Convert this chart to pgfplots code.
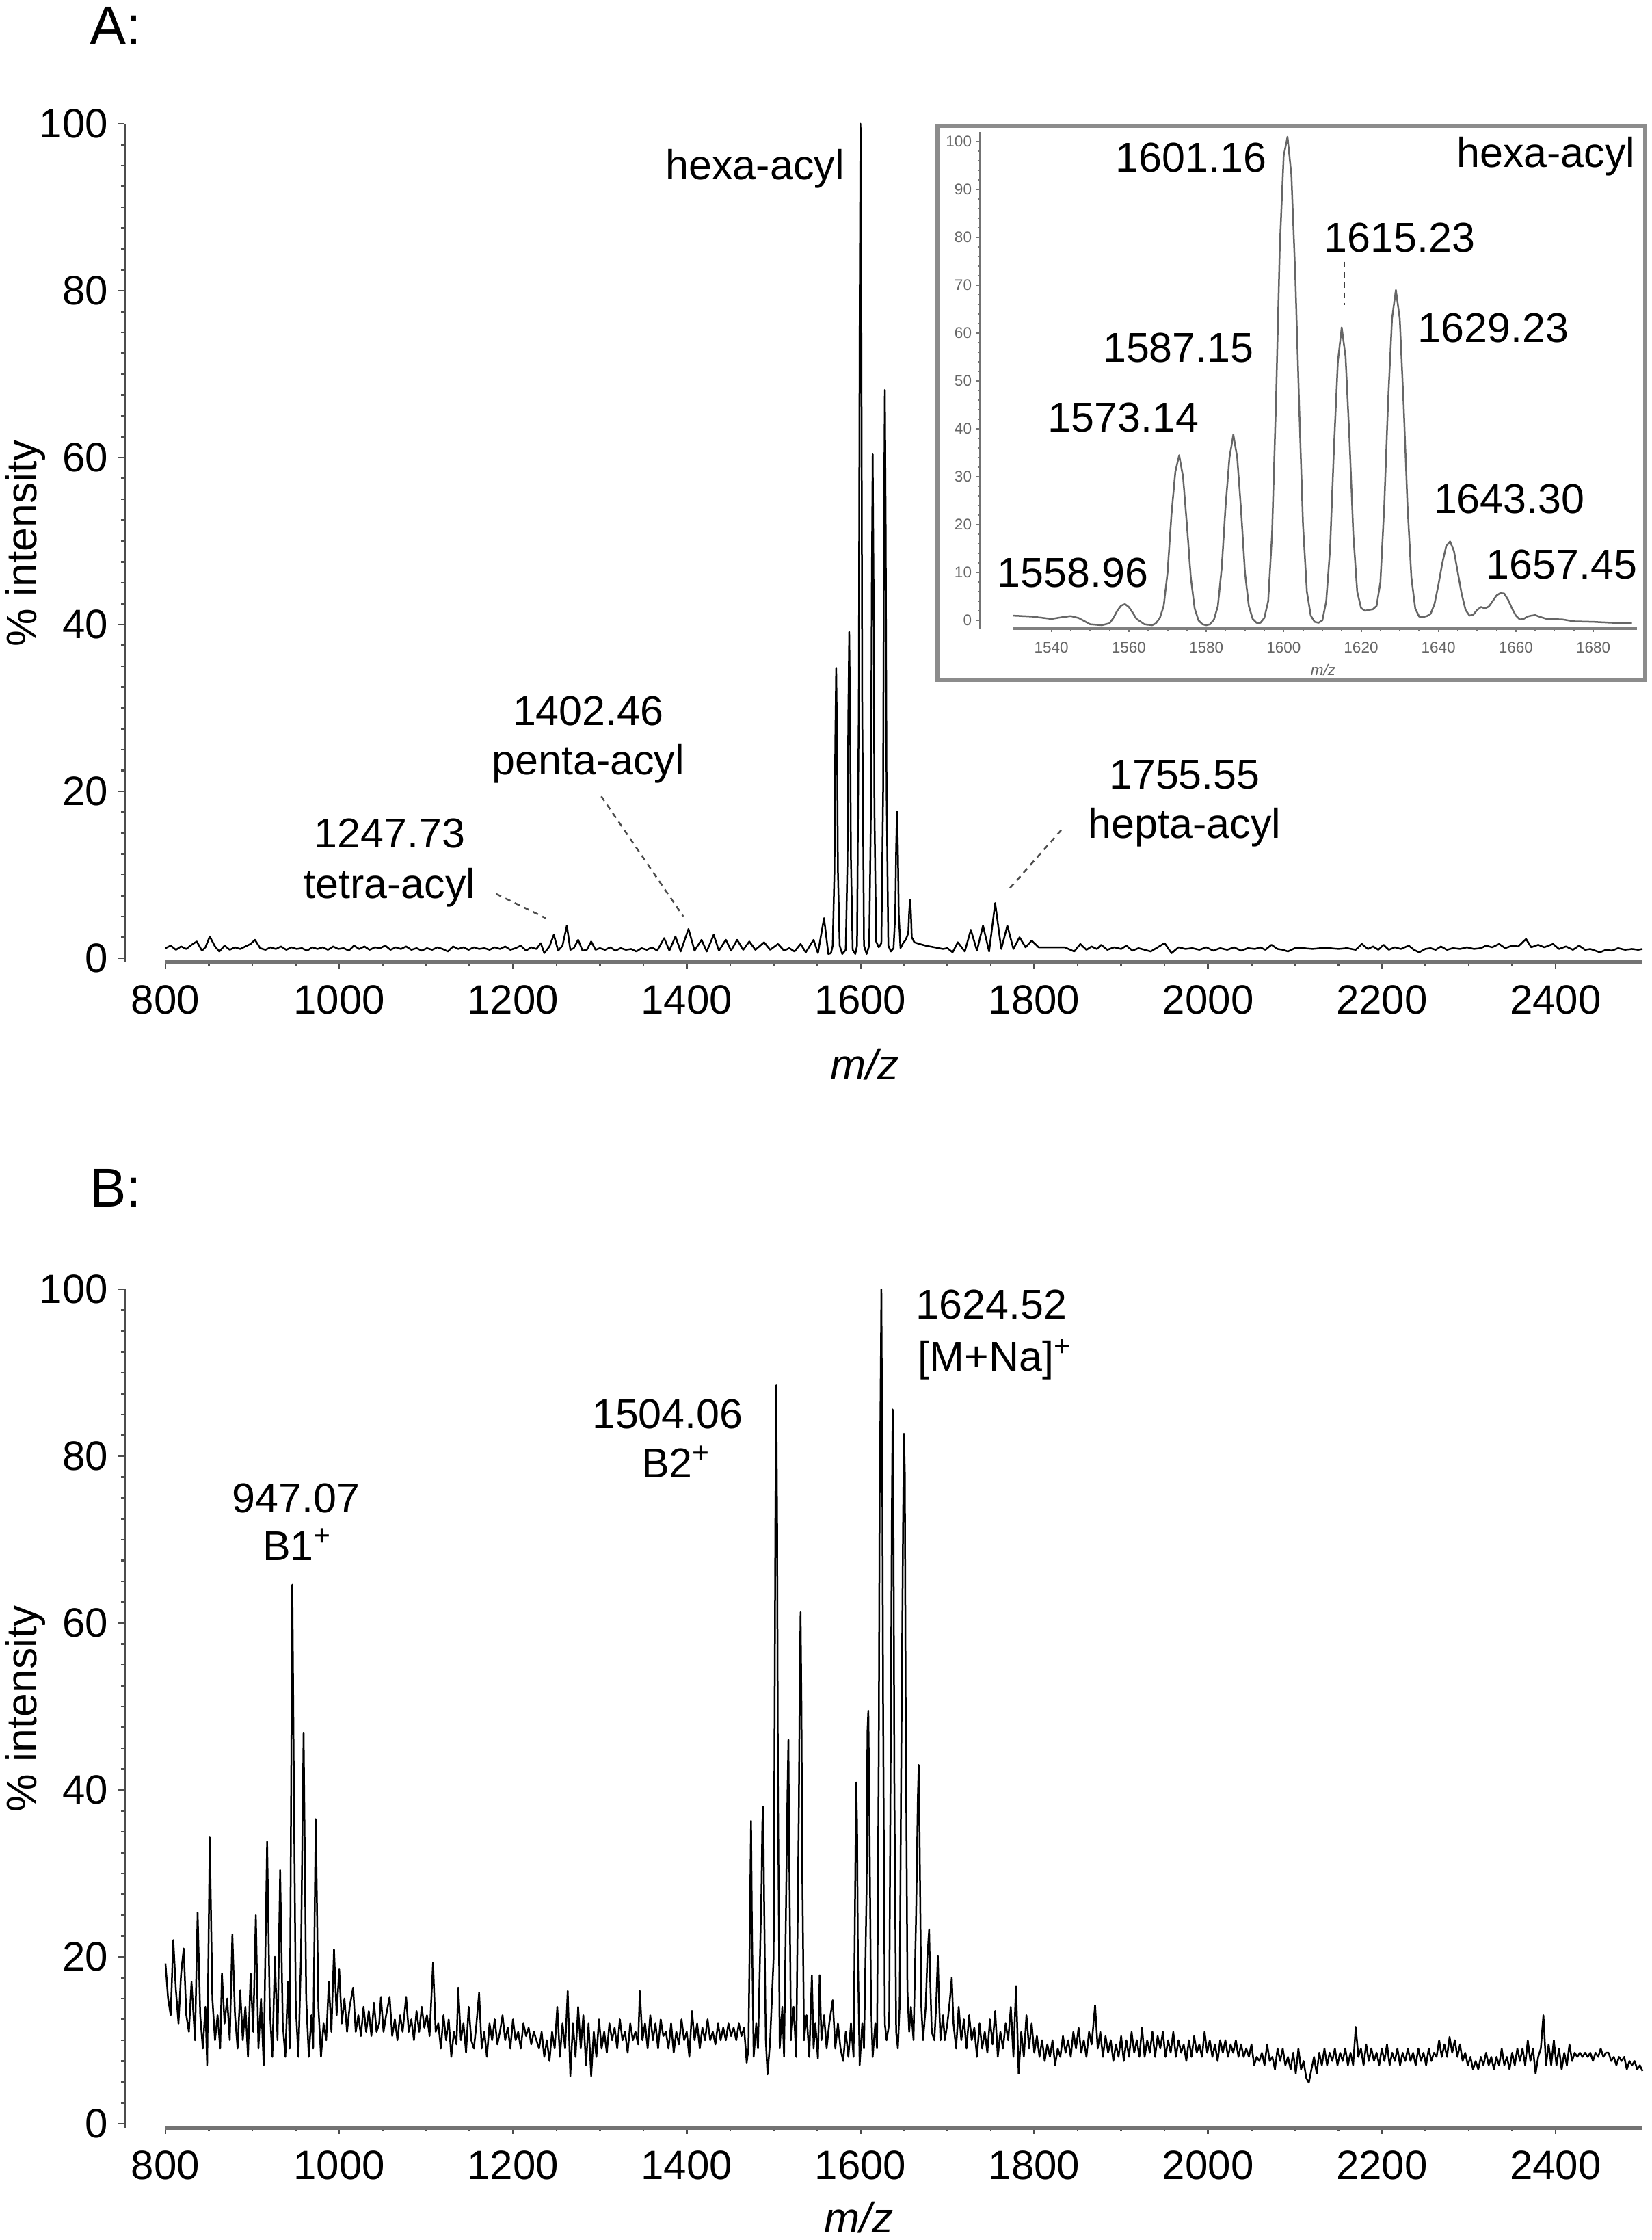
\documentclass[border=0pt]{standalone}
\usepackage{fontspec}
\setmainfont{Liberation Sans}
\usepackage{pgfplots}
\pgfplotsset{compat=1.18}
\newcommand\tck{\fontsize{12}{12}\selectfont}
\newcommand\lab{\fontsize{12.2}{14}\selectfont}
\newcommand\itk{\fontsize{4.5}{5}\selectfont}
\tikzset{
  ann/.style={inner sep=0pt, font=\lab},
  dsh/.style={black!70, line width=0.5pt, dash pattern=on 1.6pt off 1.4pt}
}
\begin{document}
\begin{tikzpicture}
\useasboundingbox (0,0) rectangle (483pt,655pt);
\pgfplotsset{
  specaxis/.style={scale only axis, clip=false, axis line style={draw=none},
    xtick pos=bottom, ytick pos=left, tick align=outside,
    major tick length=1.8pt, minor tick length=1pt,
    every tick/.style={black!70, line width=0.5pt},
    xticklabel style={font=\tck, inner sep=0pt, yshift=-4.8pt},
    yticklabel style={font=\tck, inner sep=0pt, xshift=-2.8pt},
    xmin=752.8, xmax=2500, ymin=-0.5, ymax=100,
    width=444pt, height=245.2pt,
    xtick={800,1000,1200,1400,1600,1800,2000,2200,2400},
    xticklabels={800,1000,1200,1400,1600,1800,2000,2200,2400},
    minor x tick num=3,
    ytick={0,20,40,60,80,100}, yticklabels={0,20,40,60,80,100},
    minor y tick num=7},
  spec/.style={black, line width=0.5pt, line join=round, mark=none}
}
\node[anchor=base west, inner sep=0pt, font=\fontsize{16}{16}\selectfont] at (26pt,641.8pt) {A:};
\node[anchor=base west, inner sep=0pt, font=\fontsize{16}{16}\selectfont] at (26pt,302pt) {B:};
% ---------------- Panel A ----------------
\begin{axis}[specaxis, at={(36.4pt,373.6pt)}, anchor=south west]
\draw[black!55, line width=1.1pt] (axis cs:800,-0.5) -- (axis cs:2500,-0.5);
\draw[black!70, line width=0.6pt] (axis cs:752.8,-0.5) -- (axis cs:752.8,100);
\addplot[spec] coordinates {
(800,1.2)(806,1.5)(812,1.0)(818,1.4)(824,1.1)(830,1.6)(836,2.0)(842,0.9)(846,1.3)(851,2.6)(857,1.4)(862,0.8)(868,1.5)(874,1.0)(880,1.3)(886,1.1)(892,1.4)(898,1.7)(903,2.2)(909,1.2)(915,1.0)(921,1.3)(927,1.1)(933,1.4)(939,1.0)(945,1.3)(951,1.1)(957,1.2)(963,0.9)(969,1.3)(975,1.1)(981,1.3)(987,1.0)(993,1.4)(999,1.1)(1005,1.2)(1011,0.9)(1017,1.5)(1023,1.1)(1029,1.4)(1035,1.0)(1041,1.3)(1047,1.2)(1053,1.5)(1059,1.0)(1065,1.3)(1071,1.1)(1077,1.4)(1083,1.0)(1089,1.2)(1095,0.9)(1101,1.2)(1107,1.0)(1113,1.3)(1119,1.1)(1125,0.8)(1131,1.4)(1137,1.1)(1143,1.3)(1149,1.0)(1155,1.3)(1161,1.1)(1167,1.2)(1173,1.0)(1179,1.3)(1185,1.1)(1191,1.4)(1197,1.0)(1203,1.2)(1209,1.5)(1215,0.9)(1221,1.3)(1227,1.1)(1232,1.8)(1236,0.6)(1242,1.4)(1247,2.8)(1252,0.9)(1257,1.5)(1262,3.9)(1266,1.0)(1270,1.2)(1275,2.2)(1280,0.9)(1285,1.0)(1290,2.0)(1295,1.0)(1300,1.2)(1306,1.0)(1312,1.3)(1318,0.9)(1324,1.2)(1330,1.0)(1336,1.1)(1342,0.8)(1348,1.2)(1354,1.0)(1360,1.3)(1366,0.9)(1374,2.4)(1380,0.9)(1387,2.6)(1393,0.8)(1402,3.5)(1409,0.9)(1417,2.2)(1423,0.8)(1431,2.8)(1437,0.9)(1445,2.2)(1451,0.9)(1458,2.2)(1465,1.0)(1472,2.0)(1479,1.0)(1489,1.9)(1496,1.0)(1505,1.7)(1512,0.9)(1518,1.2)(1524,0.8)(1531,1.7)(1537,0.7)(1546,2.2)(1551,0.6)(1558,4.8)(1563,0.5)
(1566,0.6)(1568,1.5)(1570,10.4)(1571,26)(1572,34.8)(1573,26)(1574,10.4)(1576,1.5)(1579,0.5)
(1583,1.0)(1585,11.7)(1586,29.3)(1587,39.1)(1588,29.3)(1589,11.7)(1591,1.0)
(1594,0.5)(1596,1.5)(1598,30)(1599,75)(1600,100)(1601,75)(1602,30)(1604,1.5)(1607,0.5)
(1610,1.5)(1612,18)(1613,45)(1614,60.4)(1615,45)(1616,18)(1618,2.0)(1621,1.3)
(1624,1.8)(1626,20)(1627,51)(1628,68.1)(1629,51)(1630,20)(1632,1.5)(1635,0.8)
(1638,1.2)(1640,5.3)(1641,13.2)(1642,17.6)(1643,13.2)(1644,5.3)(1646,1.2)(1649,1.8)
(1652,2.2)(1655,3.0)(1656,5.5)(1657,7.0)(1658,5.5)(1659,2.5)(1662,1.9)(1668,1.7)(1675,1.5)(1685,1.3)(1695,1.1)
(1700,1.2)(1706,0.7)(1712,1.9)(1720,0.8)(1727,3.4)(1734,0.9)(1741,3.9)(1748,0.8)(1755,6.6)(1762,1.1)(1769,3.9)(1776,1.1)(1783,2.5)(1790,1.3)(1797,2.1)(1805,1.3)(1835,1.3)(1846,0.8)(1853,1.7)(1860,1.0)(1866,1.4)(1872,1.1)(1877,1.6)(1884,1.0)(1892,1.3)(1900,1.1)(1906,1.5)(1913,0.9)(1920,1.2)(1927,1.0)(1934,0.8)(1942,1.3)(1950,1.8)(1958,0.6)(1966,1.3)(1974,1.1)(1982,1.2)(1990,1.0)(1998,1.3)(2006,0.9)(2014,1.2)(2022,1.0)(2030,1.3)(2038,0.9)(2046,1.2)(2054,1.1)(2060,1.3)(2066,1.0)(2073,1.6)(2080,1.1)(2086,1.0)(2092,0.8)(2100,1.2)(2110,1.2)(2120,1.1)(2130,1.2)(2140,1.2)(2150,1.1)(2160,1.2)(2170,1.0)(2177,1.7)(2184,1.1)(2190,1.4)(2196,1.0)(2202,1.6)(2208,1.0)(2215,1.3)(2222,1.1)(2231,1.5)(2237,1.0)(2243,0.7)(2250,1.1)(2256,1.2)(2262,1.0)(2268,1.4)(2275,1.0)(2282,1.2)(2290,1.1)(2298,1.3)(2306,1.1)(2314,1.2)(2320,1.5)(2327,1.3)(2335,1.7)(2342,1.2)(2350,1.5)(2357,1.4)(2366,2.3)(2372,1.3)(2380,1.6)(2387,1.3)(2397,1.7)(2404,1.1)(2412,1.4)(2420,1.0)(2427,1.5)(2434,1.0)(2440,1.1)(2451,0.7)(2458,1.0)(2465,0.9)(2472,1.2)(2480,1.0)(2488,1.1)(2495,1.0)(2500,1.1)
};
\node[ann, anchor=base east] at (axis cs:1582,93.3) {hexa-acyl};
\node[ann, anchor=base] at (axis cs:1286.6,27.9) {1402.46};
\node[ann, anchor=base] at (axis cs:1286.6,22.0) {penta-acyl};
\draw[dsh] (axis cs:1301.6,19.4) -- (axis cs:1396,5.0);
\node[ann, anchor=base] at (axis cs:1058,13.2) {1247.73};
\node[ann, anchor=base] at (axis cs:1058,7.2) {tetra-acyl};
\draw[dsh] (axis cs:1180.7,7.7) -- (axis cs:1237.6,4.8);
\node[ann, anchor=base] at (axis cs:1973,20.3) {1755.55};
\node[ann, anchor=base] at (axis cs:1973,14.4) {hepta-acyl};
\draw[dsh] (axis cs:1772,8.4) -- (axis cs:1831.5,15.4);
\node[ann, rotate=90, anchor=center, font=\fontsize{12.5}{14}\selectfont] at ([xshift=-29pt]rel axis cs:0,0.5) {\% intensity};
\node[ann, anchor=center, font=\fontsize{12.5}{14}\selectfont\itshape] at ([yshift=-29.8pt]axis cs:1605,-0.5) {m/z};
\end{axis}
% ---------------- Inset ----------------
\draw[black!45, line width=1.3pt, fill=white] (274.2pt,456.2pt) rectangle (481.2pt,618.2pt);
\begin{axis}[scale only axis, clip=false, axis line style={draw=none},
    at={(286.6pt,471.2pt)}, anchor=south west, width=192.2pt, height=145.2pt,
    xmin=1521.5, xmax=1691.3, ymin=-1.7, ymax=102,
    xtick pos=bottom, ytick pos=left, tick align=outside,
    major tick length=1pt, minor tick length=0.6pt,
    every tick/.style={black!55, line width=0.4pt},
    xtick={1540,1560,1580,1600,1620,1640,1660,1680},
    xticklabels={1540,1560,1580,1600,1620,1640,1660,1680},
    minor x tick num=3,
    ytick={0,10,20,30,40,50,60,70,80,90,100},
    yticklabels={0,10,20,30,40,50,60,70,80,90,100},
    minor y tick num=4,
    xticklabel style={font=\itk, text=black!60, inner sep=0pt, yshift=-2.75pt},
    yticklabel style={font=\itk, text=black!60, inner sep=0pt, xshift=-1.2pt}]
\draw[black!50, line width=0.8pt] (axis cs:1530,-1.7) -- (axis cs:1691.3,-1.7);
\draw[black!55, line width=0.5pt] (axis cs:1521.5,-1.7) -- (axis cs:1521.5,102);
\addplot[black!60, line width=0.5pt, line join=round, mark=none] coordinates {
(1530,1.0)(1535,0.8)(1540,0.3)(1543,0.7)(1545,0.9)(1547,0.5)(1550,-0.8)(1553,-1.0)(1555,-0.6)(1556,0.5)(1557,2.0)(1558,3.1)(1559,3.4)(1560,2.8)(1561,1.6)(1562,0.3)(1564,-0.8)(1566,-1.0)
(1567,-0.6)(1568,0.5)(1569,3)(1570,10)(1571,22)(1572,31)(1573,34.5)(1574,30)(1575,20)(1576,9)(1577,2.5)(1578,0)(1579,-0.8)(1580,-1.0)
(1581,-0.8)(1582,0.2)(1583,3)(1584,11)(1585,24)(1586,34)(1587,38.8)(1588,34)(1589,23)(1590,10)(1591,3)(1592,0.3)(1593,-0.5)
(1594,-0.5)(1595,0.5)(1596,4)(1597,18)(1598,45)(1599,78)(1600,97)(1601,101)(1602,93)(1603,72)(1604,45)(1605,20)(1606,6)(1607,1)(1608,-0.3)(1609,-0.5)
(1610,0)(1611,4)(1612,15)(1613,36)(1614,54)(1615,61.2)(1616,55)(1617,38)(1618,18)(1619,6)(1620,2.6)(1621,2)(1622,2.2)(1623,2.3)(1624,3)
(1625,8)(1626,24)(1627,46)(1628,63)(1629,69)(1630,63)(1631,45)(1632,24)(1633,9)(1634,2.5)(1635,0.8)(1636,0.7)
(1637,0.9)(1638,1.4)(1639,3.5)(1640,7.5)(1641,12)(1642,15.5)(1643,16.5)(1644,14.5)(1645,10)(1646,5.5)(1647,2.2)(1648,1.0)(1649,1.2)
(1650,2.2)(1651,2.8)(1652,2.5)(1653,2.9)(1654,4)(1655,5.2)(1656,5.7)(1657,5.6)(1658,4.3)(1659,2.5)(1660,1)(1661,0.2)(1662,0.3)(1663,0.8)(1664,1.0)(1665,1.1)(1666,0.8)(1668,0.3)(1672,0.2)(1675,-0.2)(1680,-0.3)(1685,-0.5)(1690,-0.5)
};
\draw[dsh, black!75] (axis cs:1615.7,74.9) -- (axis cs:1615.7,65.9);
\node[ann, anchor=base east] at (axis cs:1691,94.6) {hexa-acyl};
\node[ann, anchor=base] at (axis cs:1576.1,93.6) {1601.16};
\node[ann, anchor=base] at (axis cs:1630,76.9) {1615.23};
\node[ann, anchor=base] at (axis cs:1654.2,58.0) {1629.23};
\node[ann, anchor=base] at (axis cs:1572.8,54.0) {1587.15};
\node[ann, anchor=base] at (axis cs:1558.6,39.4) {1573.14};
\node[ann, anchor=base] at (axis cs:1658.3,22.4) {1643.30};
\node[ann, anchor=base] at (axis cs:1671.9,8.7) {1657.45};
\node[ann, anchor=base] at (axis cs:1545.5,6.9) {1558.96};
\node[inner sep=0pt, anchor=center, font=\itk\itshape, text=black!60] at ([yshift=-12pt]axis cs:1610.2,-1.7) {m/z};
\end{axis}
% ---------------- Panel B ----------------
\begin{axis}[specaxis, at={(36.4pt,32.8pt)}, anchor=south west]
\draw[black!55, line width=1.1pt] (axis cs:800,-0.5) -- (axis cs:2500,-0.5);
\draw[black!70, line width=0.6pt] (axis cs:752.8,-0.5) -- (axis cs:752.8,100);
\addplot[spec] coordinates {
(800,19.2)(803,15)(806,13)(809,22)(812,16)(815,12)(818,18)(821,21)(824,13)(827,11)(830,17)(834,10)(837,25.3)(840,13)(843,9)(846,14)(848,7)(851,34.3)(854,15)(857,10)(860,13)(863,9)(865,18)(868,12)(871,15)(874,10)(877,22.7)(880,13)(883,9)(886,16)(889,10)(892,14)(895,8)(898,18)(901,11)(904,25)(907,9)(910,15)(913,7)(917,33.8)(920,14)(923,8)(926,20)(929,10)(932,30.4)(935,12)(938,8)(941,17)(943,9)(946,64.6)(948,38)(950,14)(953,8)(956,20)(959,46.8)(962,15)(965,8)(968,13)(970,9)(973,36.5)(976,14)(979,8)(982,12)(985,10)(988,17)(991,11)(994,20.9)(997,13)(1000,18.5)
(1003,12)(1006,15)(1009,11)(1012,14)(1016,16.3)(1019,11)(1022,13)(1025,10.5)(1028,14)(1031,11)(1034,13.5)(1037,10.5)(1040,14.5)(1043,11)(1046,12)(1048,15.2)(1051,11)(1054,13)(1058,15.2)(1061,10.5)(1064,12.5)(1067,10)(1070,13)(1073,11)(1077,15.2)(1080,11)(1083,12.5)(1086,10)(1089,13.5)(1092,11)(1095,14)(1098,11.5)(1101,13)(1104,10.5)(1108,19.3)(1111,11)(1114,12)(1117,9)(1120,13)(1123,10)(1126,12.5)(1129,8)(1132,11)(1135,9.5)(1137,16.3)(1140,10)(1143,12)(1146,8.5)(1149,14)(1152,10)(1155,9)(1158,12)(1161,15.7)(1164,9)(1167,11)(1170,8)(1173,12)(1176,10)(1179,12.5)(1182,9.5)(1185,11)(1188,13)(1191,10)(1194,11.5)(1197,9)(1200,12.5)
(1203,10)(1206,11)(1209,9)(1212,12)(1215,10.5)(1218,11.5)(1221,9.5)(1224,11)(1227,10)(1230,9)(1233,11)(1236,8)(1239,10)(1242,7.5)(1245,11)(1248,9)(1251,14)(1254,8)(1257,12)(1260,9)(1263,15.9)(1266,5.7)(1269,12)(1272,8)(1275,14)(1278,9)(1281,13)(1284,7)(1287,12)(1290,5.7)(1293,11)(1296,8)(1299,12.5)(1302,9)(1305,11)(1308,8.5)(1311,12)(1314,10)(1317,11.5)(1320,9)(1323,12.5)(1326,10)(1329,11)(1332,8.5)(1335,12)(1338,10)(1341,11)(1344,9.5)(1346,15.9)(1349,10)(1352,12)(1355,9)(1358,13)(1361,10)(1364,12)(1367,9)(1370,12.5)(1373,10.5)(1376,11)(1379,9)(1382,12)(1385,8.5)(1388,11)(1391,9.5)(1394,12.5)(1397,10)(1400,11)
(1403,8)(1406,13.5)(1409,10)(1412,12)(1415,9)(1418,11.5)(1421,10)(1424,12.5)(1427,10)(1430,11)(1433,9.5)(1436,12)(1439,10)(1442,11.5)(1445,10)(1448,12)(1451,10.5)(1454,11.5)(1457,10)(1460,12)(1463,10.5)(1466,11.5)(1469,7.3)
(1471,9)(1473,27)(1474,36.3)(1475,24)(1477,8)(1480,12)(1482,9)(1486,28)(1487,36)(1488,38)(1489,27)(1491,10)(1493,5.9)(1496,10)(1500,20)(1502,72)(1503,88.5)(1504,72)(1505,40)(1507,9)(1510,14)(1512,8)(1515,32)(1516,40)(1517,46)(1518,32)(1520,10)(1523,14)(1526,8)(1529,38)(1530,52)(1531,61.3)(1532,50)(1533,30)(1535,10)(1538,13)(1541,8)(1544,17.8)(1546,9)(1548,12)(1551,7.8)(1553,17.8)(1555,10)(1558,13)(1561,9)(1564,12)(1568,14.8)(1571,9)(1574,12)(1577,9)(1580,7.5)(1583,11)(1586,8)(1589,12)
(1592,8)(1594,30)(1595,40.9)(1596,36)(1597,20)(1599,7)(1602,12)(1604,9)(1607,28)(1608,47)(1609,49.5)(1610,40)(1612,15)(1614,8)(1617,12)(1619,9)(1621,45)(1622,75)(1623,86)(1624,100)(1625,80)(1626,50)(1628,12)(1630,10)(1633,12)(1635,50)(1636,72)(1637,85.6)(1638,70)(1639,40)(1641,11)(1643,9)(1645,14)(1647,45)(1649,72)(1650,82.7)(1651,78)(1652,50)(1654,16)(1656,11)(1658,14)(1661,10)(1664,25)(1666,39)(1667,43)(1668,34)(1670,14)(1672,10)(1675,14)(1677,20)(1679,23.3)(1680,18)(1682,11)(1685,10)(1687,14)(1689,20.1)(1690,16)(1692,10)(1695,13)(1697,10)(1700,12)(1703,15)(1705,17.5)(1707,12)(1710,9)
(1713,14)(1716,10)(1719,12.5)(1722,9)(1725,13)(1728,10)(1731,11.5)(1734,8)(1737,12)(1740,9)(1743,11)(1746,8.5)(1749,12.5)(1752,9.5)(1755,13.5)(1758,8)(1761,11)(1764,9)(1767,12)(1770,10)(1773,14)(1776,8)(1779,16.5)(1782,6)(1785,11)(1788,8)(1791,13)(1794,9)(1797,12)(1800,8.5)
(1803,10.5)(1806,8)(1809,10)(1812,7.5)(1815,9.5)(1818,8)(1821,10)(1824,7)(1827,9)(1830,8)(1833,10.5)(1836,8.5)(1839,10)(1842,8)(1845,11)(1848,9)(1851,11.5)(1854,8.5)(1857,10)(1860,8)(1863,11)(1866,9.5)(1870,14.2)(1873,9)(1876,11)(1879,8)(1882,10.5)(1885,8.5)(1888,10)(1891,7.5)(1894,9.5)(1897,8)(1900,10.5)
(1903,7.5)(1906,10)(1909,8)(1912,11)(1915,8.5)(1918,10)(1921,8)(1924,11.5)(1927,8)(1930,10)(1933,8.5)(1936,11)(1939,8)(1942,10.5)(1945,9)(1948,11)(1951,8)(1954,10)(1957,8.5)(1960,11)(1963,8)(1966,10)(1969,8.5)(1972,9.5)(1975,7.5)(1978,10)(1981,8)(1984,10.5)(1987,8.5)(1990,9.5)(1993,8)(1996,11)(1999,8.5)
(2002,10)(2005,8)(2008,9.5)(2011,7.5)(2014,10)(2017,8.5)(2020,10)(2023,8)(2026,9.5)(2029,8.5)(2032,10)(2035,8)(2038,9.5)(2041,8)(2044,9)(2047,8)(2050,9.5)(2053,7)(2056,8)(2059,7.5)(2062,8.5)(2065,7)(2068,9.5)(2071,7.5)(2074,8)(2077,6.5)(2080,9)(2083,7.5)(2086,9)(2089,7)(2092,8)(2095,6.5)(2098,8.5)
(2101,6)(2104,9)(2107,6.5)(2110,7.5)(2113,5.5)(2116,4.9)(2119,6.5)(2122,8)(2125,6)(2128,8.5)(2131,7)(2134,9)(2137,7)(2140,8.5)(2143,7.5)(2146,9)(2149,7)(2152,8.5)(2155,7.5)(2158,9)(2161,7)(2164,8.5)(2167,7)(2170,11.6)(2173,8)(2176,9)(2179,7)(2182,9.5)(2185,7.5)(2188,9)(2191,7.5)(2194,8.5)(2197,7)(2200,9)
(2203,7.5)(2206,9.5)(2209,7)(2212,8.5)(2215,7.5)(2218,9)(2221,7)(2224,8.5)(2227,7.5)(2230,9)(2233,7.5)(2236,8.5)(2239,7)(2242,9)(2245,7.5)(2248,8.5)(2251,7)(2254,9)(2257,7.5)(2260,8.5)(2263,8)(2266,10)(2269,8)(2272,9.5)(2275,8)(2278,10.4)(2281,8.5)(2284,10)(2287,8)(2290,9.5)(2293,7.5)(2296,8.5)(2299,7)
(2302,8)(2305,6.5)(2308,7.5)(2311,6.5)(2314,8)(2317,7)(2320,8.5)(2323,7)(2326,8)(2329,6.5)(2332,8)(2335,7)(2338,9)(2341,7)(2344,8)(2347,6.5)(2350,8.5)(2353,7)(2356,9)(2359,7.5)(2362,9)(2365,7)(2368,10)(2371,7.5)(2374,9)(2377,6)(2380,8)(2383,9)(2386,13)(2389,7)(2392,9.5)(2395,7)(2398,10)
(2401,7)(2404,9)(2407,6.5)(2410,8.5)(2413,7)(2416,9.5)(2419,7.5)(2422,8.5)(2425,8)(2428,8.5)(2431,8)(2434,8.5)(2437,8)(2440,8.5)(2443,7.5)(2446,8.5)(2449,8)(2452,9)(2455,8)(2458,8.5)(2461,8.5)(2464,7.5)(2467,8)(2470,7)(2473,8)(2476,7.5)(2479,8)(2482,6.5)(2485,7.5)(2488,7)(2491,7.5)(2494,6.5)(2497,7)(2500,6.3)
};
\node[ann, anchor=base] at (axis cs:950.4,73.2) {947.07};
\node[ann, anchor=base] at (axis cs:952,67.5) {B1\textsuperscript{+}};
\node[ann, anchor=base] at (axis cs:1378,83.3) {1504.06};
\node[ann, anchor=base] at (axis cs:1388,77.4) {B2\textsuperscript{+}};
\node[ann, anchor=base west] at (axis cs:1663,96.4) {1624.52};
\node[ann, anchor=base west] at (axis cs:1665.5,90.2) {[M+Na]\textsuperscript{+}};
\node[ann, rotate=90, anchor=center, font=\fontsize{12.5}{14}\selectfont] at ([xshift=-29pt]rel axis cs:0,0.5) {\% intensity};
\node[ann, anchor=center, font=\fontsize{12.5}{14}\selectfont\itshape] at ([yshift=-26.3pt]axis cs:1598,-0.5) {m/z};
\end{axis}
\end{tikzpicture}
\end{document}
